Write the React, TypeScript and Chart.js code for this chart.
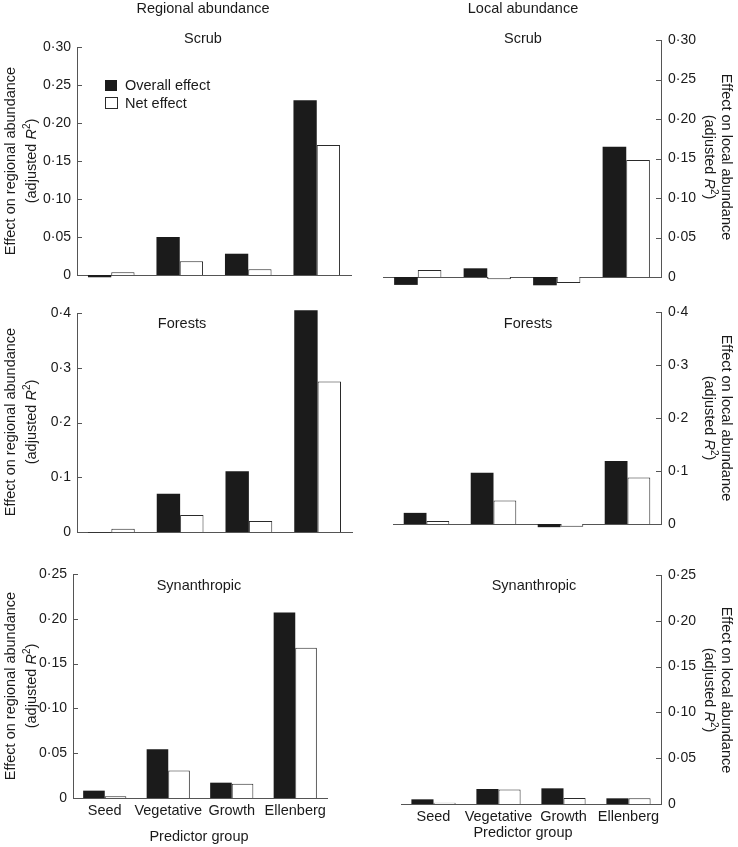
import React, { useEffect, useRef } from 'react';
import { Chart, registerables } from 'chart.js';

Chart.register(...registerables);

// ---------------- data ----------------
const categories = ['Seed', 'Vegetative', 'Growth', 'Ellenberg'];

const regionalScrubOverall = [-0.003, 0.050, 0.028, 0.230];
const regionalScrubNet = [0.0035, 0.018, 0.0075, 0.171];
const localScrubOverall = [-0.010, 0.011, -0.0105, 0.165];
const localScrubNet = [0.009, -0.003, -0.0076, 0.148];

const regionalForestOverall = [-0.001, 0.070, 0.111, 0.405];
const regionalForestNet = [0.006, 0.031, 0.020, 0.275];
const localForestOverall = [0.021, 0.0965, -0.006, 0.119];
const localForestNet = [0.0056, 0.0445, -0.005, 0.0877];

const regionalSynOverall = [0.0082, 0.0544, 0.0171, 0.207];
const regionalSynNet = [0.0019, 0.0306, 0.016, 0.1677];
const localSynOverall = [0.0051, 0.0164, 0.0171, 0.0062];
const localSynNet = [0.0015, 0.0157, 0.0066, 0.0062];

// y-axis tick settings: [max, step, decimals]
const scrubAxis = [0.30, 0.05, 2];
const forestAxis = [0.4, 0.1, 1];
const synAxis = [0.25, 0.05, 2];

const seriesLabels = ['Overall effect', 'Net effect'];

// ---------------- style / layout ----------------
const W = 738;
const H = 847;
const AXW = 50;
const XH = 40;
const FONT = '"Liberation Sans", Arial, Helvetica, sans-serif';
const TEXT = '#1a1a1a';
const AXIS = '#555';
const BLACK = '#1b1b1b';
const FS = 14.5;

Chart.defaults.font.family = FONT;

const inwardTicks = {
  id: 'inwardTicks',
  afterDraw(chart: any) {
    const s = chart.scales.y;
    const ctx = chart.ctx;
    const left = s.position === 'left';
    const x = left ? chart.chartArea.left : chart.chartArea.right;
    ctx.save();
    ctx.strokeStyle = AXIS;
    ctx.lineWidth = 1;
    s.ticks.forEach((t: any) => {
      const y = Math.round(s.getPixelForValue(t.value)) + 0.5;
      ctx.beginPath();
      ctx.moveTo(x, y);
      ctx.lineTo(x + (left ? 5 : -5), y);
      ctx.stroke();
    });
    ctx.restore();
  },
};

type Area = { l: number; r: number; t: number; b: number };

function Panel(props: {
  overall: number[];
  net: number[];
  axis: number[];
  side: 'left' | 'right';
  area: Area;
  showX: boolean;
}) {
  const ref = useRef<HTMLCanvasElement>(null);
  useEffect(() => {
    const { overall, net, axis, side, area, showX } = props;
    const [yMax, yStep, dec] = axis;
    const padding =
      side === 'left'
        ? { left: area.l - AXW, right: W - area.r, top: area.t, bottom: H - area.b - XH }
        : { left: area.l, right: W - area.r - AXW, top: area.t, bottom: H - area.b - XH };
    const chart = new Chart(ref.current as HTMLCanvasElement, {
      type: 'bar',
      data: {
        labels: categories,
        datasets: [
          {
            label: seriesLabels[0],
            data: overall,
            backgroundColor: BLACK,
            borderColor: BLACK,
            borderWidth: 0,
            categoryPercentage: 0.68,
            barPercentage: 1,
            clip: false,
          } as any,
          {
            label: seriesLabels[1],
            data: net,
            backgroundColor: '#ffffff',
            borderColor: '#2a2a2a',
            borderWidth: 1,
            categoryPercentage: 0.68,
            barPercentage: 1,
            clip: false,
          } as any,
        ],
      },
      options: {
        responsive: false,
        animation: false,
        layout: { padding },
        plugins: { legend: { display: false }, tooltip: { enabled: false } },
        scales: {
          x: {
            type: 'category',
            position: 'bottom',
            grid: { display: false, drawTicks: false },
            border: { display: true, color: AXIS, width: 1 },
            ticks: {
              display: showX,
              font: { size: FS, family: FONT },
              color: TEXT,
              padding: 4,
              maxRotation: 0,
              autoSkip: false,
            },
            afterFit: (s: any) => {
              s.height = XH;
            },
          },
          y: {
            position: side,
            min: 0,
            max: yMax,
            grid: { display: false, drawTicks: false },
            border: { display: true, color: AXIS, width: 1 },
            ticks: {
              stepSize: yStep,
              font: { size: 14, family: FONT },
              color: TEXT,
              padding: side === 'left' ? 6 : 7,
              callback: (v: any) => {
                const n = Number(v);
                if (Math.abs(n) < 1e-9) return '0';
                return n.toFixed(dec).replace('.', '\u00B7');
              },
            },
            afterFit: (s: any) => {
              s.width = AXW;
            },
          },
        },
      } as any,
      plugins: [inwardTicks],
    });
    return () => chart.destroy();
  }, []);
  return (
    <canvas
      ref={ref}
      width={W}
      height={H}
      style={{ position: 'absolute', left: 0, top: 0, width: W, height: H }}
    />
  );
}

const txtBase: React.CSSProperties = {
  position: 'absolute',
  whiteSpace: 'nowrap',
  font: `${FS}px ${FONT}`,
  lineHeight: '16px',
  color: TEXT,
};

function Txt(props: { x: number; y: number; rot?: number; children: React.ReactNode }) {
  const { x, y, rot = 0, children } = props;
  return (
    <div
      style={{
        ...txtBase,
        left: x,
        top: y,
        transform: `translate(-50%, -50%) rotate(${rot}deg)`,
      }}
    >
      {children}
    </div>
  );
}

const R2 = (
  <span>
    (adjusted <i>R</i>
    <sup style={{ fontSize: 10, lineHeight: 0, verticalAlign: 'super' }}>2</sup>)
  </span>
);

function LeftYTitle({ cy }: { cy: number }) {
  return (
    <>
      <Txt x={9.5} y={cy} rot={-90}>Effect on regional abundance</Txt>
      <Txt x={31} y={cy} rot={-90}>{R2}</Txt>
    </>
  );
}

function RightYTitle({ cy }: { cy: number }) {
  return (
    <>
      <Txt x={727} y={cy} rot={90}>Effect on local abundance</Txt>
      <Txt x={710} y={cy} rot={90}>{R2}</Txt>
    </>
  );
}

export default function App() {
  return (
    <div
      style={{
        position: 'fixed',
        left: 0,
        top: 0,
        width: W,
        height: H,
        background: '#fff',
        overflow: 'hidden',
      }}
    >
      <Panel overall={regionalScrubOverall} net={regionalScrubNet} axis={scrubAxis} side="left" area={{ l: 77, r: 351, t: 47, b: 275 }} showX={false} />
      <Panel overall={localScrubOverall} net={localScrubNet} axis={scrubAxis} side="right" area={{ l: 383, r: 661, t: 40, b: 277 }} showX={false} />
      <Panel overall={regionalForestOverall} net={regionalForestNet} axis={forestAxis} side="left" area={{ l: 77, r: 352, t: 313, b: 532 }} showX={false} />
      <Panel overall={localForestOverall} net={localForestNet} axis={forestAxis} side="right" area={{ l: 393, r: 661, t: 312, b: 524 }} showX={false} />
      <Panel overall={regionalSynOverall} net={regionalSynNet} axis={synAxis} side="left" area={{ l: 73, r: 327, t: 574, b: 798 }} showX={true} />
      <Panel overall={localSynOverall} net={localSynNet} axis={synAxis} side="right" area={{ l: 401, r: 661, t: 575, b: 804 }} showX={true} />

      <Txt x={203} y={8}>Regional abundance</Txt>
      <Txt x={523} y={8}>Local abundance</Txt>

      <Txt x={203} y={38}>Scrub</Txt>
      <Txt x={523} y={38}>Scrub</Txt>
      <Txt x={182} y={323}>Forests</Txt>
      <Txt x={528} y={323}>Forests</Txt>
      <Txt x={199} y={585}>Synanthropic</Txt>
      <Txt x={534} y={585}>Synanthropic</Txt>

      <LeftYTitle cy={161} />
      <LeftYTitle cy={422} />
      <LeftYTitle cy={686} />
      <RightYTitle cy={157} />
      <RightYTitle cy={418} />
      <RightYTitle cy={690} />

      <Txt x={199} y={836}>Predictor group</Txt>
      <Txt x={523} y={832}>Predictor group</Txt>

      {/* legend */}
      <div style={{ position: 'absolute', left: 105, top: 80, width: 12, height: 11, background: BLACK }} />
      <div style={{ position: 'absolute', left: 105, top: 97, width: 11, height: 10, border: '1px solid #2a2a2a', background: '#fff' }} />
      <div style={{ ...txtBase, left: 125, top: 85, transform: 'translateY(-50%)' }}>{seriesLabels[0]}</div>
      <div style={{ ...txtBase, left: 125, top: 103, transform: 'translateY(-50%)' }}>{seriesLabels[1]}</div>
    </div>
  );
}
